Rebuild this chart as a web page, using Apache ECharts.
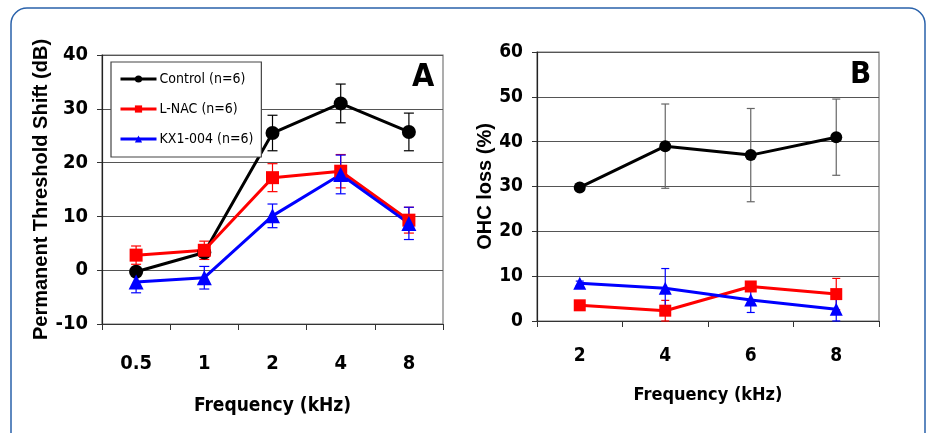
<!DOCTYPE html>
<html>
  <head>
    <meta charset="utf-8">
    <title>Threshold shift and OHC loss</title>
    <script src="https://cdn.jsdelivr.net/npm/echarts@6/dist/echarts.min.js"></script>
    <style>
      html, body { margin: 0; padding: 0; background: #fff; }
      #chart { width: 927px; height: 433px; }
    </style>
  </head>
  <body>
    <div id="chart"></div>
    <script>
      // Panel A: permanent threshold shift
      var freqA = ['0.5', '1', '2', '4', '8'];
      var controlA = [-0.3, 3.3, 25.5, 31.0, 25.7];
      var controlAErr = [0.6, 0.8, 3.3, 3.6, 3.5];
      var lnacA = [2.8, 3.7, 17.2, 18.4, 9.3];
      var lnacAErr = [1.7, 1.7, 2.6, 3.1, 2.4];
      var kxA = [-2.2, -1.4, 10.1, 17.8, 8.7];
      var kxAErr = [2.0, 2.1, 2.2, 3.6, 3.0];

      // Panel B: OHC loss
      var freqB = ['2', '4', '6', '8'];
      var controlB = [29.8, 39.0, 37.0, 41.0];
      var controlBErr = [0.5, 9.4, 10.4, 8.5];
      var lnacB = [3.5, 2.3, 7.7, 6.0];
      var lnacBErr = [0.5, 2.3, 1.0, 3.5];
      var kxB = [8.4, 7.3, 4.7, 2.6];
      var kxBErr = [0.5, 4.4, 2.8, 2.6];

      var names = ['Control (n=6)', 'L-NAC (n=6)', 'KX1-004 (n=6)'];

      var NARROW = "'Liberation Sans Narrow', 'DejaVu Sans Condensed', sans-serif";
      var ARIAL = "'Liberation Sans', Arial, sans-serif";

      var chart = echarts.init(document.getElementById('chart'));

      function errData(vals, errs) {
        return vals.map(function(v, i) {
          return [i, v - errs[i], v + errs[i]];
        });
      }

      function errSeries(idx, vals, errs, color, cap) {
        return {
          type: 'custom',
          xAxisIndex: idx,
          yAxisIndex: idx,
          z: 1,
          silent: true,
          encode: { x: 0, y: [1, 2] },
          data: errData(vals, errs),
          renderItem: function(params, api) {
            var lo = api.coord([api.value(0), api.value(1)]);
            var hi = api.coord([api.value(0), api.value(2)]);
            var st = { stroke: color, lineWidth: 1.2 };
            return {
              type: 'group',
              children: [
                { type: 'line', shape: { x1: lo[0], y1: lo[1], x2: hi[0], y2: hi[1] }, style: st },
                { type: 'line', shape: { x1: hi[0] - cap, y1: hi[1], x2: hi[0] + cap, y2: hi[1] }, style: st },
                { type: 'line', shape: { x1: lo[0] - cap, y1: lo[1], x2: lo[0] + cap, y2: lo[1] }, style: st }
              ]
            };
          }
        };
      }

      function lineSeries(idx, name, vals, color, symbol, size) {
        return {
          name: name,
          type: 'line',
          xAxisIndex: idx,
          yAxisIndex: idx,
          z: 3,
          data: vals,
          symbol: symbol,
          symbolSize: size,
          showAllSymbol: true,
          lineStyle: { color: color, width: 3 },
          itemStyle: { color: color },
          emphasis: { disabled: true },
          animation: false
        };
      }

      function xAxis(idx, cats, gap, margin, size, nameSize) {
        return {
          type: 'category',
          gridIndex: idx,
          data: cats,
          boundaryGap: true,
          name: 'Frequency (kHz)',
          nameLocation: 'middle',
          nameGap: gap,
          nameTextStyle: { fontFamily: NARROW, fontWeight: 'bold', fontSize: nameSize, color: '#000' },
          axisLine: { onZero: false, lineStyle: { color: '#333', width: 1.2 } },
          axisTick: { show: true, length: 6, lineStyle: { color: '#333' } },
          axisLabel: { margin: margin, fontFamily: NARROW, fontWeight: 'bold', fontSize: size, color: '#000' },
          splitLine: { show: false }
        };
      }

      function yAxis(idx, name, min, max, gap, size) {
        return {
          type: 'value',
          gridIndex: idx,
          min: min,
          max: max,
          interval: 10,
          name: name,
          nameLocation: 'middle',
          nameRotate: 90,
          nameGap: gap,
          nameTextStyle: { fontFamily: ARIAL, fontWeight: 'bold', fontSize: 20, color: '#000' },
          axisLine: { show: true, lineStyle: { color: '#222', width: 1.2 } },
          axisTick: { show: true, length: 5, lineStyle: { color: '#333' } },
          axisLabel: { margin: 14, fontFamily: NARROW, fontWeight: 'bold', fontSize: size, color: '#000' },
          splitLine: { show: true, lineStyle: { color: '#555', width: 1.2 } }
        };
      }

      var option = {
        animation: false,
        backgroundColor: '#fff',
        grid: [
          { left: 102, right: 484, top: 55, bottom: 109, show: true, borderColor: '#777', borderWidth: 1.2 },
          { left: 537, right: 48, top: 52, bottom: 112, show: true, borderColor: '#777', borderWidth: 1.2 }
        ],
        legend: {
          data: names,
          orient: 'vertical',
          left: 111,
          top: 62,
          padding: [10, 8, 11, 8],
          itemGap: 16,
          itemWidth: 36,
          itemHeight: 9,
          backgroundColor: '#fff',
          borderColor: '#444',
          borderWidth: 1.2,
          borderRadius: 0,
          selectedMode: false,
          lineStyle: { width: 3 },
          textStyle: { fontFamily: NARROW, fontSize: 14, color: '#000', padding: [0, 0, 0, -2] }
        },
        xAxis: [
          xAxis(0, freqA, 73, 30, 20, 19),
          xAxis(1, freqB, 65, 26, 19, 18)
        ],
        yAxis: [
          yAxis(0, 'Permanent Threshold Shift (dB)', -10, 40, 43, 20),
          yAxis(1, 'OHC loss (%)', 0, 60, 39, 19)
        ],
        graphic: [
          {
            type: 'rect',
            shape: { x: 11, y: 8, width: 914, height: 445, r: 16 },
            style: { fill: 'none', stroke: '#2a62ab', lineWidth: 1.5 },
            silent: true
          },
          {
            type: 'text', left: 412, top: 62,
            style: { text: 'A', font: 'bold 32px ' + NARROW, fill: '#000' }
          },
          {
            type: 'text', left: 850, top: 59,
            style: { text: 'B', font: 'bold 31px ' + NARROW, fill: '#000' }
          }
        ],
        series: [
          errSeries(0, controlA, controlAErr, '#000', 5),
          errSeries(0, lnacA, lnacAErr, '#ff0000', 5),
          errSeries(0, kxA, kxAErr, '#0000ff', 5),
          lineSeries(0, names[0], controlA, '#000', 'circle', 14),
          lineSeries(0, names[1], lnacA, '#ff0000', 'rect', 13),
          lineSeries(0, names[2], kxA, '#0000ff', 'triangle', 15),
          errSeries(1, controlB, controlBErr, '#666', 4),
          errSeries(1, lnacB, lnacBErr, '#ff0000', 4),
          errSeries(1, kxB, kxBErr, '#0000ff', 4),
          lineSeries(1, names[0], controlB, '#000', 'circle', 12),
          lineSeries(1, names[1], lnacB, '#ff0000', 'rect', 12),
          lineSeries(1, names[2], kxB, '#0000ff', 'triangle', 13)
        ]
      };

      chart.setOption(option);
    </script>
  </body>
</html>
